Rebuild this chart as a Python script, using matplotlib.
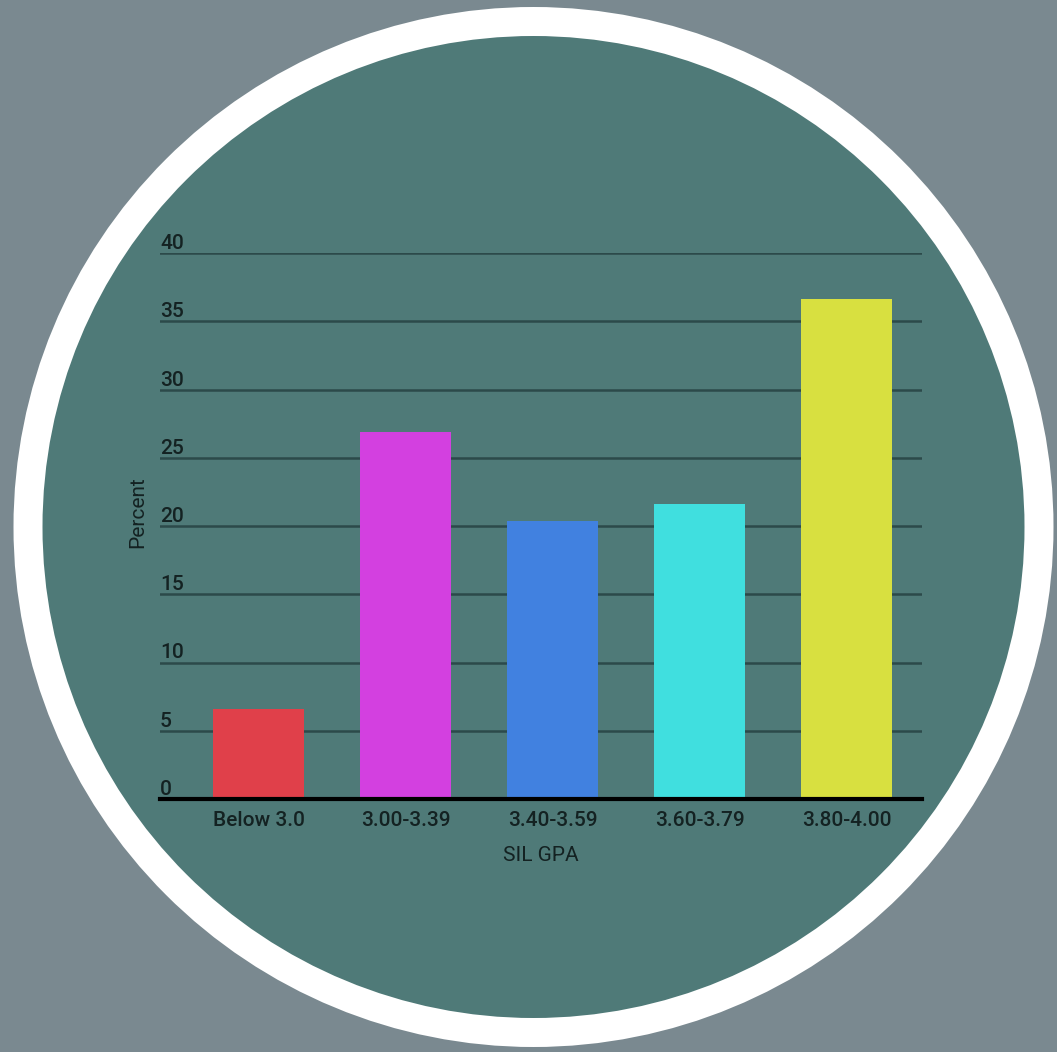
import matplotlib
matplotlib.use("Agg")
import matplotlib.pyplot as plt
from matplotlib.patches import Circle

categories = ["Below 3.0", "3.00-3.39", "3.40-3.59", "3.60-3.79", "3.80-4.00"]
values = [6.6, 26.9, 20.4, 21.6, 36.6]
bar_colors = ["#e0404a", "#d340e0", "#4181e0", "#40dfdf", "#d8e040"]
yticks = [0, 5, 10, 15, 20, 25, 30, 35, 40]
ylabel = "Percent"
xlabel = "SIL GPA"

W, H = 1057, 1052
plt.rcParams['font.family'] = ['Roboto', 'DejaVu Sans']
fig = plt.figure(figsize=(W / 100, H / 100), dpi=100, facecolor="#7a8990")

bg = fig.add_axes([0, 0, 1, 1])
bg.set_xlim(0, W)
bg.set_ylim(H, 0)
bg.axis("off")
bg.add_patch(Circle((533.5, 527), 520, facecolor="white", edgecolor="none"))
bg.add_patch(Circle((533.5, 527), 491, facecolor="#4f7a78", edgecolor="none"))

text_color = "#142222"
grid_color = "#2c4a4a"
fs = 15

x0, x1 = 160, 922
y0, y1 = 799, 253
ax = fig.add_axes([x0 / W, (H - y0) / H, (x1 - x0) / W, (y0 - y1) / H])
ax.patch.set_alpha(0)
ax.set_ylim(0, 40)
ax.set_xlim(-0.673, 4.514)
xs = list(range(len(categories)))
ax.bar(xs, values, width=0.62, color=bar_colors, zorder=3)
for t in yticks[1:]:
    ax.axhline(t, color=grid_color, lw=1.8, zorder=1)
for sp in ["top", "right", "left"]:
    ax.spines[sp].set_visible(False)
ax.spines["bottom"].set_color("black")
ax.spines["bottom"].set_linewidth(3)
ax.spines["bottom"].set_zorder(4)
ax.set_yticks([])
ax.set_xticks(xs)
ax.set_xticklabels(categories, fontsize=fs, color=text_color, fontweight="medium")
ax.tick_params(axis="x", length=0, pad=9)
for t in yticks:
    ax.text(0.0, t, str(t), transform=ax.get_yaxis_transform(), ha="left", va="bottom",
            fontsize=fs, color=text_color, fontweight="medium")
ax.set_xlabel(xlabel, fontsize=fs, color=text_color, labelpad=11)

fig.text(138 / W, 1 - 512 / H, ylabel, rotation=90, ha="center", va="center",
         fontsize=fs, color=text_color)

fig.savefig("out.png", dpi=100, facecolor=fig.get_facecolor())
